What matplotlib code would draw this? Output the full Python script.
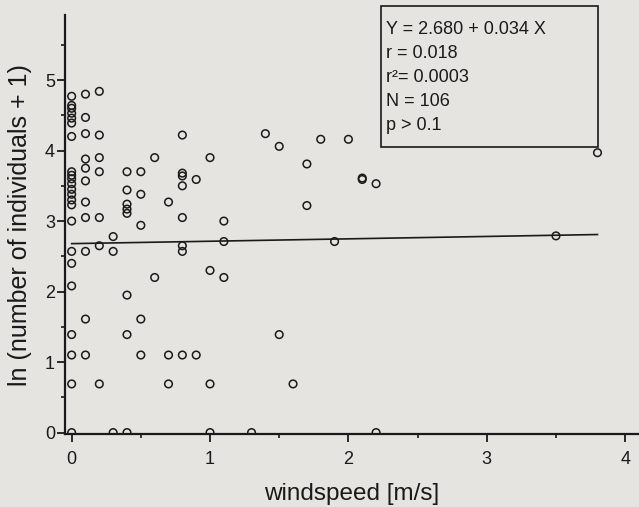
import matplotlib
matplotlib.use("Agg")
import matplotlib.pyplot as plt
from matplotlib.patches import Rectangle
from matplotlib.ticker import MultipleLocator

plt.rcParams['font.family'] = ['Liberation Sans', 'DejaVu Sans']

# windspeed [m/s]
wind = ([0.0] * 23 + [0.1] * 11 + [0.2] * 7 + [0.3] * 3 + [0.4] * 8 + [0.5] * 5
        + [0.6] * 2 + [0.7] * 3 + [0.8] * 8 + [0.9] * 2 + [1.0] * 4 + [1.1] * 3
        + [1.3, 1.4, 1.5, 1.5, 1.6, 1.7, 1.7, 1.8, 1.9, 2.0, 2.1, 2.1, 2.2, 2.2, 3.5, 3.8])
# ln(number of individuals + 1)
ln_ind = [
    # 0.0
    4.77, 4.64, 4.60, 4.53, 4.46, 4.39, 4.20,
    3.70, 3.65, 3.60, 3.53, 3.45, 3.38, 3.30, 3.23, 3.00,
    2.57, 2.40, 2.08, 1.39, 1.10, 0.69, 0.0,
    # 0.1
    4.80, 4.47, 4.24, 3.88, 3.75, 3.57, 3.27, 3.05, 2.57, 1.61, 1.10,
    # 0.2
    4.84, 4.22, 3.90, 3.70, 3.05, 2.65, 0.69,
    # 0.3
    2.78, 2.57, 0.0,
    # 0.4
    3.70, 3.44, 3.24, 3.17, 3.11, 1.95, 1.39, 0.0,
    # 0.5
    3.70, 3.38, 2.94, 1.61, 1.10,
    # 0.6
    3.90, 2.20,
    # 0.7
    3.27, 1.10, 0.69,
    # 0.8
    4.22, 3.68, 3.64, 3.50, 3.05, 2.65, 2.57, 1.10,
    # 0.9
    3.59, 1.10,
    # 1.0
    3.90, 2.30, 0.69, 0.0,
    # 1.1
    3.00, 2.71, 2.20,
    # rest
    0.0, 4.24, 4.06, 1.39, 0.69, 3.81, 3.22, 4.16, 2.71, 4.16, 3.61, 3.59, 3.53, 0.0, 2.79, 3.97,
]

intercept = 2.680
slope = 0.034
fit_x = [0.0, 3.8]
fit_y = [intercept + slope * x for x in fit_x]

stats_lines = ["Y = 2.680 + 0.034 X", "r = 0.018", "r\u00b2= 0.0003", "N = 106", "p > 0.1"]

bg = '#e6e4e1'
fig = plt.figure(figsize=(6.39, 5.07), dpi=100, facecolor=bg)
ax = fig.add_axes([0.1013, 0.144, 0.8987, 0.826])
ax.set_facecolor(bg)

ax.scatter(wind, ln_ind, s=30, facecolors='none', edgecolors='#1a1a1a', linewidths=1.1, zorder=3)
ax.plot(fit_x, fit_y, color='#1a1a1a', lw=1.2, zorder=2)

ax.set_xlim(-0.05, 4.10)
ax.set_ylim(-0.02, 5.92)

for s in ['top', 'right']:
    ax.spines[s].set_visible(False)
for s in ['left', 'bottom']:
    ax.spines[s].set_linewidth(1.6)
    ax.spines[s].set_color('#1a1a1a')

ax.xaxis.set_major_locator(MultipleLocator(1))
ax.xaxis.set_minor_locator(MultipleLocator(0.5))
ax.yaxis.set_major_locator(MultipleLocator(1))
ax.yaxis.set_minor_locator(MultipleLocator(0.5))
ax.tick_params(which='major', direction='out', length=6, width=1.3, color='#1a1a1a',
               labelsize=13, labelcolor='#1a1a1a')
ax.tick_params(axis='x', which='major', pad=6)
ax.tick_params(axis='y', which='major', pad=1)
ax.tick_params(which='minor', direction='out', length=3, width=1.2, color='#1a1a1a')

ax.set_xlabel('windspeed [m/s]', fontsize=17.5, color='#1a1a1a', labelpad=11)
ax.set_ylabel('ln (number of individuals + 1)', fontsize=18, color='#1a1a1a', labelpad=9)

# stats box
fig.patches.append(Rectangle((381 / 639, 1 - 147 / 507), (598 - 381) / 639, (147 - 6) / 507,
                             transform=fig.transFigure, fill=False, edgecolor='#1a1a1a', lw=1.2))
for i, line in enumerate(stats_lines):
    fig.text(386 / 639, 1 - (30 + 24 * i) / 507, line, fontsize=13, color='#1a1a1a',
             ha='left', va='center')

fig.savefig('out.png', dpi=100, facecolor=bg)
